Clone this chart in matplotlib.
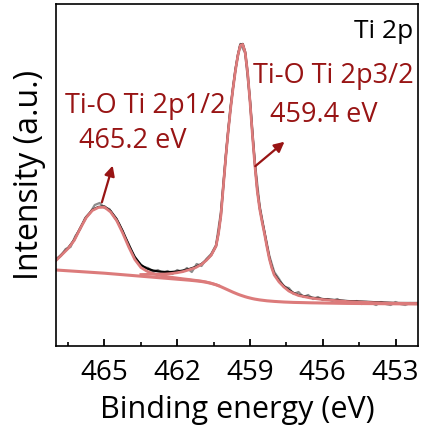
import numpy as np
import matplotlib
matplotlib.use("Agg")
import matplotlib.pyplot as plt

plt.rcParams['font.family'] = ['Open Sans', 'DejaVu Sans']

# raw spectrum, 0.2 eV step from 467.0 down to 452.0
raw_energy = np.round(np.arange(467.0, 451.99, -0.2), 1)
raw_counts = [87, 90, 97, 99, 110, 117, 128, 133, 141, 143,
              138, 137, 129, 122, 111, 102, 90, 84, 79, 78,
              74, 76, 73, 75, 72, 76, 74, 78, 74, 82,
              80, 87, 92, 101, 134, 190, 240, 277, 302, 293,
              246, 184, 140, 114, 90, 74, 67, 59, 58, 52,
              54, 49, 51, 47, 49, 46, 47, 45, 47, 44,
              45, 43, 45, 42, 44, 43, 41, 44, 42, 41,
              44, 42, 41, 43, 42, 43]

# fit grid
fit_energy = [467.0, 466.75, 466.5, 466.25, 466.0, 465.75, 465.5, 465.25, 465.0, 464.75,
              464.5, 464.25, 464.0, 463.75, 463.5, 463.25, 463.0, 462.75, 462.5, 462.25,
              462.0, 461.75, 461.5, 461.25, 461.0, 460.8, 460.6, 460.4, 460.3, 460.2,
              460.1, 460.0, 459.9, 459.8, 459.7, 459.6, 459.5, 459.4, 459.3, 459.2,
              459.1, 459.0, 458.9, 458.8, 458.7, 458.6, 458.5, 458.4, 458.3, 458.2,
              458.1, 458.0, 457.8, 457.6, 457.4, 457.2, 457.0, 456.5, 456.0, 455.5,
              455.0, 454.5, 454.0, 453.5, 453.0, 452.5, 452.0]
fit_sum = [86, 92, 98, 106, 118, 129, 136, 139, 139.5, 135,
           127, 115, 101, 89, 81, 77.5, 75.5, 74.5, 74, 74,
           74.5, 75.5, 77, 79, 82, 86, 91, 100, 113, 131,
           160, 189, 215, 238, 258, 276, 291, 301, 302, 294,
           274, 245, 212, 182, 156, 138, 125, 113, 100, 88,
           79, 72, 65, 60, 56, 53, 51, 48.5, 47, 46,
           45, 44.5, 44, 43.5, 43, 43, 43]
background = [76, 75.6, 75.2, 74.8, 74.4, 74, 73.6, 73.2, 72.8, 72.3,
              71.8, 71.3, 70.8, 70.3, 69.8, 69.3, 68.8, 68.3, 67.8, 67.3,
              66.8, 66.3, 65.8, 65.2, 64.5, 63.7, 62.6, 61.2, 60.3, 59.3,
              58.2, 57.1, 56, 54.9, 53.8, 52.8, 51.8, 50.9, 50.1, 49.3,
              48.6, 48, 47.4, 46.9, 46.5, 46.1, 45.8, 45.5, 45.2, 45,
              44.8, 44.6, 44.3, 44, 43.8, 43.6, 43.5, 43.2, 43, 42.8,
              42.6, 42.5, 42.4, 42.3, 42.2, 42.1, 42]
# Ti 2p1/2 component (467.0 -> 460.3)
peak_2p12 = [85.5, 91.5, 97.5, 105.5, 117.5, 128.5, 135.5, 138.5, 138.8, 134,
             125.5, 113, 99, 86.5, 78.5, 74.8, 72.3, 70.8, 69.8, 68.8,
             68, 67.2, 66.5, 65.7, 64.9, 64, 62.8, 61.3, 60.4]
# Ti 2p3/2 component (463.5 -> 452.0)
peak_2p32 = [71.5, 71.6, 71.8, 71.9, 72, 72.5, 73.3, 74.5, 76.3, 78.3,
             81.6, 85.7, 90.8, 99.9, 112.5, 130.5, 159.5, 188.5, 214.5, 237.5,
             257.5, 275.5, 290.5, 300.5, 301.5, 293.5, 273.5, 244.5,
             211, 181, 155, 137, 124, 112, 99, 87, 78, 71,
             64, 59, 55, 52.5, 50.5, 48, 46.5, 45.5, 44.5, 44,
             43.5, 43, 42.8, 42.6, 42.5]

pink = '#dc7b7b'
darkred = '#981414'

fig = plt.figure(figsize=(4.21, 4.32), dpi=100)
ax = fig.add_axes([0.133, 0.199, 0.860, 0.792])

ax.plot(raw_energy, raw_counts, color='#8c8c8c', lw=1.6)
ax.plot(fit_energy, fit_sum, color='black', lw=1.6)
ax.plot(fit_energy[:len(peak_2p12)], peak_2p12, color=pink, lw=2.0)
ax.plot(fit_energy[-len(peak_2p32):], peak_2p32, color=pink, lw=2.0)
ax.plot(fit_energy, background, color=pink, lw=2.2)

ax.set_xlim(467.0, 452.07)
ax.set_ylim(0, 342)
ax.set_xticks([465, 462, 459, 456, 453])
ax.set_xticks([466.5, 463.5, 460.5, 457.5, 454.5], minor=True)
ax.tick_params(axis='x', which='major', direction='in', length=5, width=1.3,
               labelsize=20, pad=9, top=False)
ax.tick_params(axis='x', which='minor', direction='in', length=3, width=1.2, top=False)
ax.set_yticks([])
for s in ax.spines.values():
    s.set_linewidth(1.2)

ax.set_xlabel('Binding energy (eV)', fontsize=22, labelpad=6)
ax.set_ylabel('Intensity (a.u.)', fontsize=23, labelpad=7)

ax.text(0.986, 0.90, 'Ti 2p', transform=ax.transAxes, ha='right', va='baseline',
        fontsize=19, color='black')
ax.text(463.31, 233, 'Ti-O Ti 2p1/2', ha='center', va='baseline',
        fontsize=19.5, color=darkred)
ax.text(463.84, 198, '465.2 eV', ha='center', va='baseline',
        fontsize=19.5, color=darkred)
ax.text(455.58, 263, 'Ti-O Ti 2p3/2', ha='center', va='baseline',
        fontsize=19.5, color=darkred)
ax.text(455.95, 224, '459.4 eV', ha='center', va='baseline',
        fontsize=19.5, color=darkred)

arrow = dict(arrowstyle='-|>', color=darkred, lw=1.6, mutation_scale=15)
ax.annotate('', xy=(464.63, 183), xytext=(465.14, 141), arrowprops=arrow)
ax.annotate('', xy=(457.49, 206), xytext=(458.87, 178), arrowprops=arrow)

fig.savefig('out.png', dpi=100)
